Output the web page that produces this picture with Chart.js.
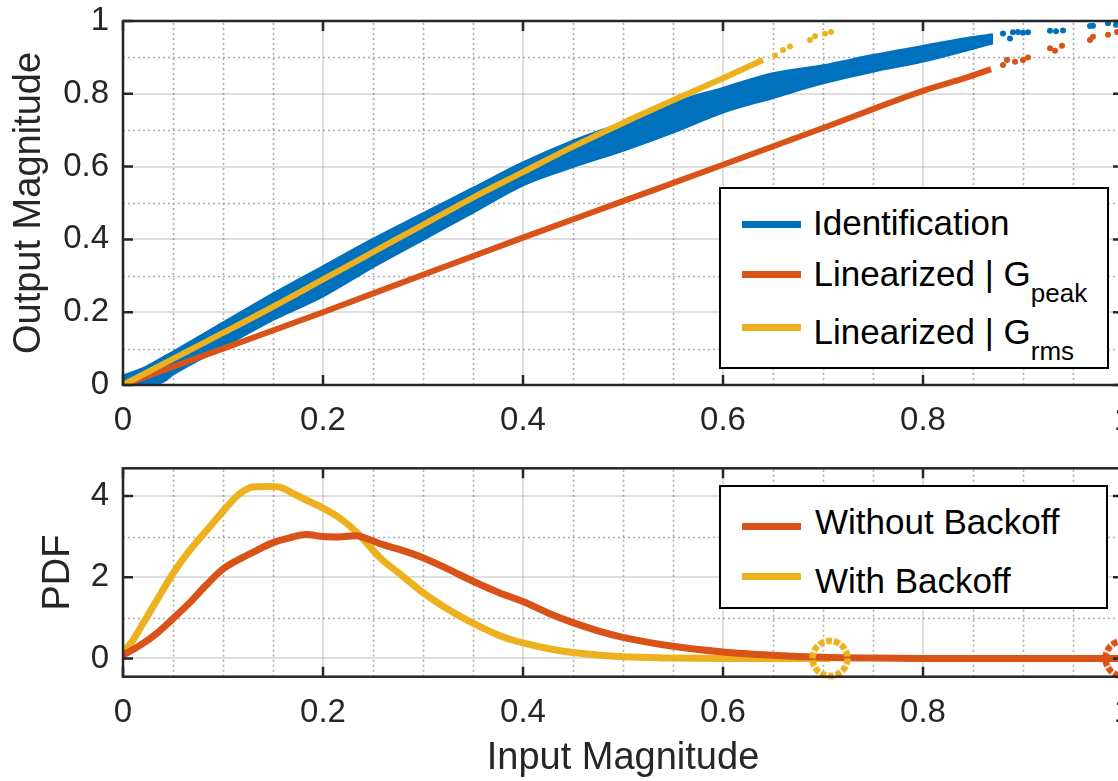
<!DOCTYPE html>
<html>
<head>
<meta charset="utf-8">
<title>PA characteristic and input PDF</title>
<script src="https://cdn.jsdelivr.net/npm/chart.js@4.4.0/dist/chart.umd.min.js"></script>
<style>
  html, body { margin: 0; padding: 0; background: #fff; overflow: hidden; }
  #stage { position: relative; width: 1118px; height: 781px; overflow: hidden; }
  #stage canvas { position: absolute; left: 0; }
  #amamChart { top: 0; }
  #pdfChart { top: 440px; }
  .legend {
    position: absolute; box-sizing: border-box; border: 2px solid #000; background: #fff;
    font-family: "Liberation Sans", Arial, Helvetica, sans-serif; color: #000;
  }
  .legend .swatch { position: absolute; height: 7px; }
  .legend .label { position: absolute; font-size: 35px; line-height: 35px; white-space: nowrap; }
  .legend .label span { font-size: 26px; line-height: 0; vertical-align: -16px; }
</style>
</head>
<body>
<div id="stage">
  <canvas id="amamChart" width="1150" height="440"></canvas>
  <canvas id="pdfChart" width="1150" height="341"></canvas>
  <div id="amamLegend" class="legend"></div>
  <div id="pdfLegend" class="legend"></div>
</div>
<script>
// ── Shared ticks ────────────────────────────────────────────────────────────
const xTicks      = [0, 0.2, 0.4, 0.6, 0.8, 1];
const xMinorTicks = [0.05, 0.1, 0.15, 0.25, 0.3, 0.35, 0.45, 0.5, 0.55, 0.65, 0.7, 0.75, 0.85, 0.9, 0.95];

// ── Top: AM/AM (output vs input magnitude) ──────────────────────────────────
const amamYTicks      = [0, 0.2, 0.4, 0.6, 0.8, 1];
const amamYMinorTicks = [0.1, 0.3, 0.5, 0.7, 0.9];

// Identification cloud, read as an upper / lower envelope of the dense band
const idX     = [0, 0.02, 0.04, 0.05, 0.1, 0.15, 0.2, 0.25, 0.3, 0.35, 0.4, 0.45, 0.5, 0.55, 0.6, 0.65, 0.7, 0.75, 0.8, 0.85, 0.87];
const idUpper = [0.025, 0.045, 0.075, 0.09, 0.17, 0.25, 0.325, 0.4, 0.47, 0.54, 0.61, 0.67, 0.72, 0.775, 0.815, 0.855, 0.877, 0.905, 0.93, 0.955, 0.962];
const idLower = [0, 0, 0.01, 0.03, 0.105, 0.18, 0.245, 0.325, 0.4, 0.475, 0.55, 0.6, 0.645, 0.695, 0.75, 0.79, 0.83, 0.862, 0.89, 0.925, 0.94];
// sparse samples at the top end
const idTailX = [0.88, 0.887, 0.89, 0.895, 0.9, 0.905, 0.927, 0.933, 0.94, 0.967, 0.97, 0.985, 0.993];
const idTailY = [0.966, 0.952, 0.969, 0.97, 0.968, 0.969, 0.973, 0.972, 0.974, 0.986, 0.987, 0.994, 0.99];

// Linearized | G_peak
const peakX     = [0, 0.1, 0.2, 0.3, 0.4, 0.5, 0.6, 0.7, 0.8, 0.844, 0.868];
const peakY     = [0, 0.1, 0.2, 0.303, 0.405, 0.505, 0.605, 0.706, 0.808, 0.845, 0.868];
const peakTailX = [0.88, 0.884, 0.892, 0.9, 0.905, 0.927, 0.932, 0.939, 0.967, 0.97, 0.985, 0.994];
const peakTailY = [0.879, 0.893, 0.888, 0.893, 0.9, 0.925, 0.918, 0.932, 0.948, 0.957, 0.962, 0.97];

// Linearized | G_rms
const rmsX     = [0, 0.05, 0.1, 0.15, 0.2, 0.25, 0.3, 0.35, 0.4, 0.45, 0.5, 0.55, 0.6, 0.64];
const rmsY     = [0, 0.072, 0.143, 0.215, 0.29, 0.365, 0.44, 0.515, 0.585, 0.655, 0.72, 0.782, 0.843, 0.893];
const rmsTailX = [0.652, 0.66, 0.667, 0.687, 0.692, 0.702, 0.708];
const rmsTailY = [0.905, 0.92, 0.93, 0.948, 0.958, 0.965, 0.97];

// ── Bottom: PDF of the input magnitude ──────────────────────────────────────
const pdfYTicks      = [0, 2, 4];
const pdfYMinorTicks = [1, 3];

const noBackoffX = [0, 0.017, 0.034, 0.05, 0.067, 0.083, 0.1, 0.117, 0.133, 0.15, 0.167, 0.183, 0.2, 0.215, 0.233, 0.245, 0.26, 0.277, 0.3, 0.325, 0.35, 0.375, 0.4, 0.425, 0.45, 0.475, 0.5, 0.55, 0.6, 0.65, 0.7, 0.75, 0.8, 0.9, 1];
const noBackoffY = [0.08, 0.32, 0.62, 0.98, 1.38, 1.8, 2.2, 2.45, 2.65, 2.85, 2.97, 3.05, 3.0, 2.99, 3.02, 2.94, 2.8, 2.68, 2.48, 2.2, 1.9, 1.63, 1.4, 1.12, 0.88, 0.68, 0.52, 0.3, 0.16, 0.08, 0.03, 0.01, 0, 0, 0];

const backoffX = [0, 0.01, 0.02, 0.034, 0.05, 0.067, 0.084, 0.1, 0.115, 0.13, 0.15, 0.16, 0.17, 0.183, 0.2, 0.217, 0.233, 0.245, 0.257, 0.277, 0.3, 0.327, 0.35, 0.377, 0.4, 0.434, 0.467, 0.5, 0.55, 0.6, 0.707];
const backoffY = [0.15, 0.45, 0.86, 1.44, 2.09, 2.67, 3.16, 3.62, 4.02, 4.22, 4.23, 4.19, 4.06, 3.9, 3.7, 3.45, 3.12, 2.8, 2.48, 2.08, 1.62, 1.18, 0.87, 0.56, 0.38, 0.2, 0.1, 0.04, 0.01, 0, 0];

// end-of-range markers (peak input of each signal)
const backoffEndX   = [0.707];
const backoffEndY   = [0];
const noBackoffEndX = [1];
const noBackoffEndY = [0];

// ── Styling ─────────────────────────────────────────────────────────────────
const BLUE   = '#0072BD';
const ORANGE = '#D95319';
const YELLOW = '#EDB120';
const AXIS   = '#262626';
const FONT   = '"Liberation Sans", Arial, Helvetica, sans-serif';
const TICK_LEN = 10;

Chart.defaults.font.family = FONT;
Chart.defaults.color = AXIS;

const zip = (xs, ys) => xs.map((x, i) => ({ x, y: ys[i] }));
const fixedTicks = values => scale => { scale.ticks = values.map(value => ({ value })); };

// dashed ring used for the end markers
function ringImage(color) {
    const c = document.createElement('canvas');
    c.width = c.height = 46;
    const g = c.getContext('2d');
    g.strokeStyle = color;
    g.lineWidth = 6.5;
    g.setLineDash([6, 1.8]);
    g.beginPath();
    g.arc(23, 23, 17.5, 0, Math.PI * 2);
    g.stroke();
    return c;
}

// MATLAB-like axes: dotted minor grid under the data, box + inward ticks on top
const axesBox = {
    id: 'axesBox',
    beforeDatasetsDraw(chart, _args, opts) {
        const { ctx, chartArea: a, scales: { x, y } } = chart;
        ctx.save();
        ctx.beginPath();
        ctx.rect(a.left, a.top, a.width, a.height);
        ctx.clip();
        ctx.strokeStyle = 'rgba(38, 38, 38, 0.38)';
        ctx.lineWidth = 1.6;
        ctx.setLineDash([2, 3]);
        ctx.beginPath();
        (opts.xMinor || []).forEach(v => {
            const p = Math.round(x.getPixelForValue(v)) + 0.5;
            ctx.moveTo(p, a.bottom); ctx.lineTo(p, a.top);
        });
        (opts.yMinor || []).forEach(v => {
            const p = Math.round(y.getPixelForValue(v)) + 0.5;
            ctx.moveTo(a.left, p); ctx.lineTo(a.right, p);
        });
        ctx.stroke();
        ctx.restore();
    },
    afterDraw(chart) {
        const { ctx, chartArea: a, scales: { x, y } } = chart;
        ctx.save();
        ctx.strokeStyle = AXIS;
        ctx.lineWidth = 2.5;
        ctx.strokeRect(a.left, a.top, a.right - a.left, a.bottom - a.top);
        ctx.beginPath();
        x.ticks.forEach(t => {
            const p = x.getPixelForValue(t.value);
            ctx.moveTo(p, a.bottom); ctx.lineTo(p, a.bottom - TICK_LEN);
            ctx.moveTo(p, a.top);    ctx.lineTo(p, a.top + TICK_LEN);
        });
        y.ticks.forEach(t => {
            const p = y.getPixelForValue(t.value);
            ctx.moveTo(a.left, p);  ctx.lineTo(a.left + TICK_LEN, p);
            ctx.moveTo(a.right, p); ctx.lineTo(a.right - TICK_LEN, p);
        });
        ctx.stroke();
        ctx.restore();
    },
};

// the plot box is placed by layout padding alone: drop Chart.js' label overflow padding
function fitBox(size, horizontal) {
    return s => {
        if (horizontal) { s.height = size; s.paddingLeft = 0; s.paddingRight = 0; }
        else { s.width = size; s.paddingTop = 0; s.paddingBottom = 0; }
    };
}

function axisOptions({ min, max, ticks, title, titlePadding, labelPadding, fit }) {
    return {
        type: 'linear',
        min, max,
        afterBuildTicks: fixedTicks(ticks),
        afterFit: fit,
        border: { display: false },
        grid: { color: 'rgba(38, 38, 38, 0.15)', lineWidth: 2, drawTicks: false },
        ticks: {
            autoSkip: false, maxRotation: 0, padding: labelPadding,
            color: AXIS, font: { size: 33 },
            callback: v => String(v),
        },
        title: title
            ? { display: true, text: title, color: AXIS, font: { size: 38 }, padding: titlePadding }
            : { display: false },
    };
}

function baseOptions(padding, scales, minor) {
    return {
        responsive: false,
        animation: false,
        devicePixelRatio: 1,
        layout: { padding },
        events: [],
        plugins: { legend: { display: false }, tooltip: { enabled: false }, axesBox: minor },
        scales,
    };
}

// ── Top chart ───────────────────────────────────────────────────────────────
const amamChart = new Chart(document.getElementById('amamChart'), {
    type: 'scatter',
    data: {
        datasets: [
            { label: 'Identification', data: zip(idX, idUpper), showLine: true, fill: '+1',
              cubicInterpolationMode: 'monotone',
              borderColor: BLUE, backgroundColor: BLUE, borderWidth: 3, pointRadius: 0, order: 5 },
            { label: 'Identification (lower)', data: zip(idX, idLower), showLine: true, fill: false,
              cubicInterpolationMode: 'monotone',
              borderColor: BLUE, borderWidth: 3, pointRadius: 0, order: 5 },
            { label: 'Identification (tail)', data: zip(idTailX, idTailY), showLine: false,
              backgroundColor: BLUE, borderWidth: 0, pointRadius: 3, order: 5 },
            { label: 'Linearized | Gpeak', data: zip(peakX, peakY), showLine: true,
              cubicInterpolationMode: 'monotone',
              borderColor: ORANGE, borderWidth: 6, pointRadius: 0, order: 3 },
            { label: 'Linearized | Gpeak (tail)', data: zip(peakTailX, peakTailY), showLine: false,
              backgroundColor: ORANGE, borderWidth: 0, pointRadius: 3, order: 3 },
            { label: 'Linearized | Grms', data: zip(rmsX, rmsY), showLine: true,
              cubicInterpolationMode: 'monotone',
              borderColor: YELLOW, borderWidth: 6, pointRadius: 0, order: 1 },
            { label: 'Linearized | Grms (tail)', data: zip(rmsTailX, rmsTailY), showLine: false,
              backgroundColor: YELLOW, borderWidth: 0, pointRadius: 3, order: 1 },
        ],
    },
    options: baseOptions({ top: 21, left: 0, right: 27, bottom: 0 }, {
        x: axisOptions({ min: 0, max: 1, ticks: xTicks, labelPadding: 16, fit: fitBox(55, true) }),
        y: axisOptions({ min: 0, max: 1, ticks: amamYTicks, labelPadding: 14, title: 'Output Magnitude',
                         titlePadding: { top: 7, bottom: 0 }, fit: fitBox(123, false) }),
    }, { xMinor: xMinorTicks, yMinor: amamYMinorTicks }),
    plugins: [axesBox],
});

// ── Bottom chart ────────────────────────────────────────────────────────────
const pdfChart = new Chart(document.getElementById('pdfChart'), {
    type: 'scatter',
    data: {
        datasets: [
            { label: 'With Backoff (end)', data: zip(backoffEndX, backoffEndY), showLine: false,
              pointStyle: ringImage(YELLOW), clip: false, order: 0 },
            { label: 'Without Backoff (end)', data: zip(noBackoffEndX, noBackoffEndY), showLine: false,
              pointStyle: ringImage(ORANGE), clip: false, order: 0 },
            { label: 'Without Backoff', data: zip(noBackoffX, noBackoffY), showLine: true,
              cubicInterpolationMode: 'monotone', borderColor: ORANGE, borderWidth: 7, pointRadius: 0, order: 1 },
            { label: 'With Backoff', data: zip(backoffX, backoffY), showLine: true,
              cubicInterpolationMode: 'monotone', borderColor: YELLOW, borderWidth: 7, pointRadius: 0, order: 2 },
        ],
    },
    options: baseOptions({ top: 28.3, left: 0, right: 27, bottom: 0 }, {
        x: axisOptions({ min: 0, max: 1, ticks: xTicks, labelPadding: 16, title: 'Input Magnitude',
                         titlePadding: { top: 0, bottom: 0 }, fit: fitBox(104.3, true) }),
        y: axisOptions({ min: -0.45, max: 4.68, ticks: pdfYTicks, labelPadding: 14, title: 'PDF',
                         titlePadding: { top: 36, bottom: 0 }, fit: fitBox(123, false) }),
    }, { xMinor: xMinorTicks, yMinor: pdfYMinorTicks }),
    plugins: [axesBox],
});

// ── HTML legends (subscripts need real markup) ──────────────────────────────
function buildLegend(id, box, rows) {
    const el = document.getElementById(id);
    Object.assign(el.style, {
        left: box.left + 'px', top: box.top + 'px', width: box.width + 'px', height: box.height + 'px',
    });
    const inner = { x: box.left + 2, y: box.top + 2 };
    rows.forEach(r => {
        const sw = document.createElement('div');
        sw.className = 'swatch';
        sw.style.cssText = `left:${742 - inner.x}px;top:${r.lineY - 3.5 - inner.y}px;width:59px;background:${r.color};`;
        const lb = document.createElement('div');
        lb.className = 'label';
        lb.style.cssText = `left:${r.textX - inner.x}px;top:${r.baseY - 29.6 - inner.y}px;`;
        lb.appendChild(document.createTextNode(r.text));
        if (r.sub) {
            const s = document.createElement('span');
            s.textContent = r.sub;
            lb.appendChild(s);
        }
        el.appendChild(sw);
        el.appendChild(lb);
    });
}

buildLegend('amamLegend', { left: 719, top: 187, width: 390, height: 182 }, [
    { text: 'Identification', sub: '', color: BLUE, lineY: 224, baseY: 235, textX: 813 },
    { text: 'Linearized | G', sub: 'peak', color: ORANGE, lineY: 274, baseY: 286, textX: 813.5 },
    { text: 'Linearized | G', sub: 'rms', color: YELLOW, lineY: 327.7, baseY: 343.3, textX: 813.5 },
]);

buildLegend('pdfLegend', { left: 719, top: 485, width: 389, height: 124 }, [
    { text: 'Without Backoff', color: ORANGE, lineY: 526.7, baseY: 534, textX: 815 },
    { text: 'With Backoff', color: YELLOW, lineY: 576.7, baseY: 592.5, textX: 815 },
]);
</script>
</body>
</html>
